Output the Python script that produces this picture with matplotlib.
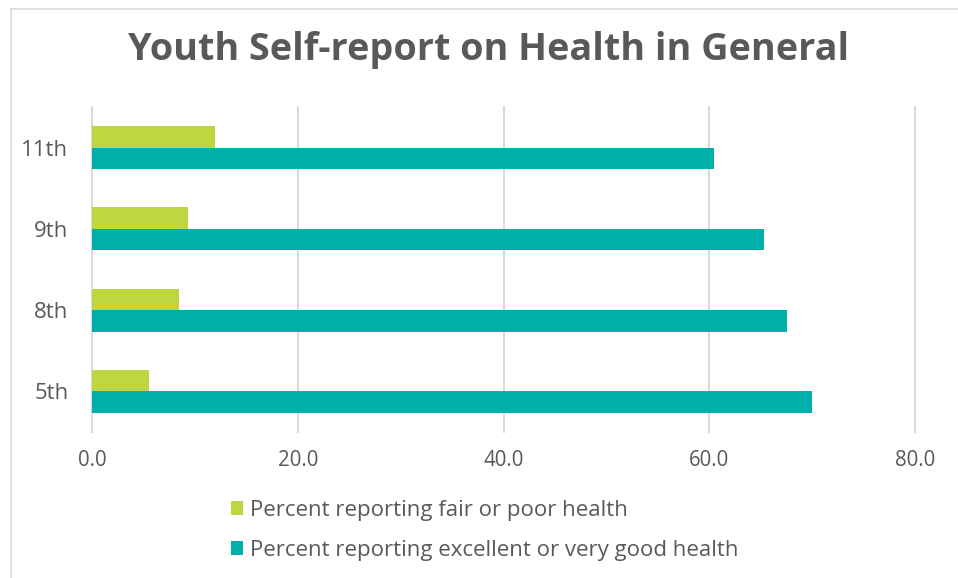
import matplotlib
matplotlib.use("Agg")
import matplotlib.pyplot as plt
from matplotlib.lines import Line2D

categories = ["5th", "8th", "9th", "11th"]
fair_poor = [5.5, 8.5, 9.3, 12.0]
excellent_good = [70.0, 67.6, 65.3, 60.5]
series_labels = ["Percent reporting fair or poor health",
                 "Percent reporting excellent or very good health"]
xticks = [0, 20, 40, 60, 80]
title = "Youth Self-report on Health in General"

GREEN = "#BFD641"
TEAL = "#00AFAA"
TEXT = "#595959"
GRID = "#D9D9D9"

plt.rcParams["font.family"] = ["Open Sans", "DejaVu Sans"]

W, H = 958, 578
fig = plt.figure(figsize=(W / 100, H / 100), dpi=100)
fig.patch.set_facecolor("white")

# outer chart border (top and left visible)
fig.add_artist(Line2D([11 / W, 11 / W], [0, 1 - 9 / H], transform=fig.transFigure,
                      color=GRID, lw=1.2))
fig.add_artist(Line2D([11 / W, 1], [1 - 9 / H, 1 - 9 / H], transform=fig.transFigure,
                      color=GRID, lw=1.2))

ax = fig.add_axes([92 / W, 1 - 432 / H, (915 - 92) / W, (432 - 107) / H])
ypos = list(range(len(categories)))
h = 0.265
b1 = ax.barh([y + h / 2 for y in ypos], fair_poor, height=h, color=GREEN,
             label=series_labels[0], zorder=3)
b2 = ax.barh([y - h / 2 for y in ypos], excellent_good, height=h, color=TEAL,
             label=series_labels[1], zorder=3)

ax.set_xlim(0, 80)
ax.set_ylim(-0.5, len(categories) - 0.5)
ax.set_xticks(xticks)
ax.set_xticklabels([f"{v:.1f}" for v in xticks])
ax.set_yticks(ypos)
ax.set_yticklabels(categories)
ax.tick_params(axis="x", length=0, pad=13, labelsize=14.8, labelcolor=TEXT)
ax.tick_params(axis="y", length=0, pad=17, labelsize=16, labelcolor=TEXT)
for s in ax.spines.values():
    s.set_visible(False)
ax.grid(axis="x", color=GRID, lw=1.4, zorder=0)
ax.set_axisbelow(True)
for gl in ax.get_xgridlines():
    gl.set_clip_on(False)

fig.text(489 / W, 1 - 50 / H, title, ha="center", va="center",
         fontsize=27.2, fontweight="bold", color=TEXT)

leg = fig.legend(handles=[b1, b2], labels=series_labels, loc="upper left",
                 bbox_to_anchor=(231 / W, 1 - 500 / H), frameon=False,
                 fontsize=16, handlelength=0.55, handleheight=0.55,
                 handletextpad=0.3, labelspacing=0.85, borderpad=0,
                 borderaxespad=0, labelcolor=TEXT)

fig.savefig("out.png", dpi=100, facecolor="white")
